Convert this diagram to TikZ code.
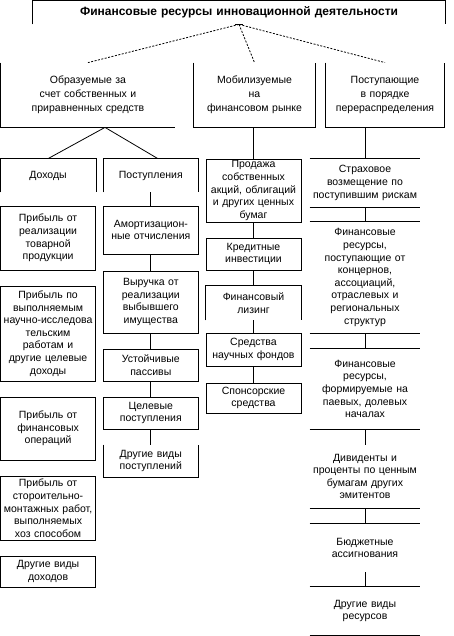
\documentclass[tikz,border=0pt]{standalone}
\usepackage{fontspec}
\setmainfont{Liberation Sans}
\begin{document}
\begin{tikzpicture}[x=1pt,y=-1pt,line width=0.8pt]
\tikzset{
  txt/.style={inner xsep=1pt, inner ysep=0pt, align=center, font=\fontsize{10.5}{12.6}\selectfont},
  fullbox/.style={txt, draw},
  colL/.style={text width=93.2pt},
  colP/.style={text width=93pt},
  colM/.style={text width=93pt},
  colR/.style={text width=108pt},
  lvl/.style={txt, minimum height=64pt, font=\fontsize{10.5}{14}\selectfont},
  dsh/.style={dash pattern=on 2pt off 1.5pt},
}
\useasboundingbox (0,0) rectangle (453,636);

% top
\node[txt, text width=410pt, minimum height=23.3pt, font=\bfseries\fontsize{12}{13}\selectfont] (top) at (239,12.35) {Финансовые ресурсы инновационной деятельности};
\draw (top.south west) -- (top.north west) -- (top.north east) -- (top.south east);
\draw ([xshift=-4pt]top.south) -- ([xshift=4pt]top.south);

% level 2
\node[lvl, text width=172pt] (A) at (88,95) {Образуемые за\\счет собственных и\\приравненных средств};
\node[lvl, text width=119pt] (B) at (254.5,95) {Мобилизуемые\\на\\финансовом рынке};
\node[lvl, text width=116pt] (C) at (385,95) {Поступающие\\в порядке\\перераспределения};
\draw (A.north west) -- (A.south west) -- (A.south east);
\draw (B.north west) -- (B.south west) -- (B.south east) -- (B.north east);
\draw (C.north west) -- (C.south west) -- (C.south east) -- (C.north east);

\draw[dsh] (top.south) -- (A.north);
\draw[dsh] (top.south) -- (B.north);
\draw[dsh] (top.south) -- (C.north);

% left column
\node[txt, colL, minimum height=33pt] (L1) at (48.1,175.5) {Доходы};
\draw (L1.south west) -- (L1.north west) -- (L1.north east) -- (L1.south east);
\node[fullbox, colL, minimum height=64pt] (L2) at (48.1,238) {Прибыль от\\реализации\\товарной\\продукции};
\node[fullbox, colL, minimum height=95pt] (L3) at (48.1,333.5) {Прибыль по\\выполняемым\\научно-исследова\\тельским\\работам  и\\другие целевые\\доходы};
\node[fullbox, colL, minimum height=63pt] (L4) at (48.1,428.5) {Прибыль от\\финансовых\\операций};
\node[fullbox, colL, minimum height=63.3pt] (L5) at (48.1,508.3) {Прибыль от\\стороительно-\\монтажных работ,\\выполняемых\\хоз способом};
\node[fullbox, colL, minimum height=31.3pt] (L6) at (48.1,571.7) {Другие виды\\доходов};

% second column
\node[txt, colP, minimum height=33pt] (P1) at (150.8,175.5) {Поступления};
\draw (P1.south west) -- (P1.north west) -- (P1.north east) -- (P1.south east);
\node[fullbox, colP, minimum height=48pt] (P2) at (150.8,230) {Амортизацион-\\ные отчисления};
\node[fullbox, colP, minimum height=62pt] (P3) at (150.8,302) {Выручка от\\реализации\\выбывшего\\имущества};
\node[fullbox, colP, minimum height=32pt] (P4) at (150.8,365) {Устойчивые\\пассивы};
\node[fullbox, colP, minimum height=32pt] (P5) at (150.8,413) {Целевые\\поступления};
\node[txt, colP, minimum height=32pt] (P6) at (150.8,461) {Другие виды\\поступлений};
\draw (P6.north west) -- (P6.south west) -- (P6.south east) -- (P6.north east);

% middle column
\node[fullbox, colM, minimum height=63pt] (M1) at (253.5,190.5) {Продажа\\собственных\\акций, облигаций\\и других ценных\\бумаг};
\node[fullbox, colM, minimum height=32pt] (M2) at (253.5,254) {Кредитные\\инвестиции};
\node[txt, colM, minimum height=34pt] (M3) at (253.5,303) {Финансовый\\лизинг};
\draw (M3.south west) -- (M3.north west) -- (M3.north east) -- (M3.south east);
\node[fullbox, colM, minimum height=33pt] (M4) at (253.5,349.5) {Средства\\научных фондов};
\node[fullbox, colM, minimum height=30pt] (M5) at (253.5,398) {Спонсорские\\средства};

% right column
\node[txt, colR, minimum height=48pt] (R1) at (365,183) {Страховое\\возмещение по\\поступившим  рискам};
\node[txt, colR, minimum height=111pt] (R2) at (365,277.5) {Финансовые\\ресурсы,\\поступающие от\\концернов,\\ассоциаций,\\отраслевых и\\региональных\\структур};
\node[txt, colR, minimum height=80pt] (R3) at (365,389) {Финансовые\\ресурсы,\\формируемые на\\паевых, долевых\\началах};
\node[txt, colR, minimum height=63pt] (R4) at (365,476.5) {Дивиденты  и\\проценты по ценным\\бумагам других\\эмитентов};
\node[txt, colR, minimum height=48pt] (R5) at (365,548) {Бюджетные\\ассигнования};
\node[txt, colR, minimum height=48pt] (R6) at (365,611) {Другие виды\\ресурсов};
\draw (R1.north west) -- (R1.north east) (R1.south west) -- (R1.south east);
\draw (R2.north west) -- (R2.north east) (R2.south west) -- (R2.south east);
\draw (R3.north west) -- (R3.north east) (R3.south west) -- (R3.south east);
\draw (R4.south west) -- (R4.south east);
\draw (R5.north west) -- (R5.north east);
\draw (R6.north west) -- (R6.north east) (R6.south west) -- (R6.south east);

% connectors
\coordinate (Ab) at ([xshift=17pt]A.south);
\draw (Ab) -- (L1.north);
\draw (Ab) -- ([xshift=7pt]P1.north);
\draw (M1.north) -- (M1.north |- B.south);
\draw (R1.north) -- (R1.north |- C.south);
\draw (P1.south) -- (P2.north);
\draw (P2.south) -- (P3.north);
\draw (P3.south) -- (P4.north);
\draw (P4.south) -- (P5.north);
\draw (P5.south) -- (P6.north);
\draw (M1.south) -- (M2.north);
\draw (M2.south) -- (M3.north);
\draw (M3.south) -- (M4.north);
\draw (M4.south) -- (M5.north);
\draw (R1.south) -- (R2.north);
\draw (R2.south) -- (R3.north);
\draw (R3.south) -- (R4.north);
\draw (R4.south) -- (R5.north);
\draw (R5.south) -- (R6.north);
\end{tikzpicture}
\end{document}
